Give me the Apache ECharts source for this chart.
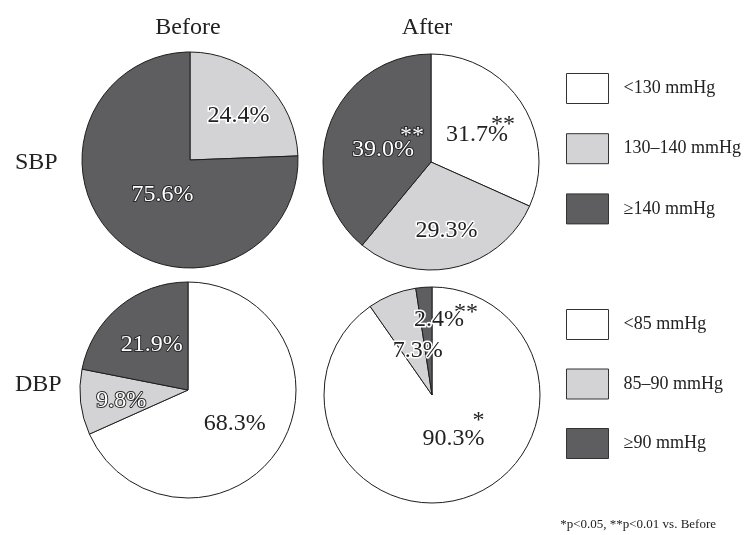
<!DOCTYPE html>
<html><head><meta charset="utf-8">
<script src="https://cdn.jsdelivr.net/npm/echarts@6/dist/echarts.min.js"></script>
<style>html,body{margin:0;padding:0;background:#fff}#c{width:746px;height:535px}</style>
</head><body><div id="c"></div>
<script>
// ---- data ----
const sbpCategories = ['<130 mmHg', '130–140 mmHg', '≥140 mmHg'];
const dbpCategories = ['<85 mmHg', '85–90 mmHg', '≥90 mmHg'];
const sbpBefore = [0, 24.4, 75.6];
const sbpAfter = [31.7, 29.3, 39.0];
const dbpBefore = [68.3, 9.8, 21.9];
const dbpAfter = [90.3, 7.3, 2.4];
const sbpBeforeMarks = ['', '', ''];
const sbpAfterMarks = ['**', '', '**'];
const dbpBeforeMarks = ['', '', ''];
const dbpAfterMarks = ['*', '', '**'];
const columnTitles = ['Before', 'After'];
const rowTitles = ['SBP', 'DBP'];
const footnote = '*p<0.05, **p<0.01 vs. Before';

// ---- style ----
const FONT = 'Liberation Serif';
const sliceColors = ['#ffffff', '#d3d3d5', '#5e5e60'];
const DARK = '#1e1e1e';
const pies = [
  {name: 'SBP Before', cats: sbpCategories, vals: sbpBefore, marks: sbpBeforeMarks, center: [190, 160],
   offsets: [[0,0],[9,-3],[12,-6]], modes: ['light','light','dark'], pad: [0,0,0], ls: [0,0,0]},
  {name: 'SBP After', cats: sbpCategories, vals: sbpAfter, marks: sbpAfterMarks, center: [431, 162],
   offsets: [[1.6,-0.3],[2.5,13],[10.6,-1.3]], modes: ['light','light','dark'], pad: [7,0,10], ls: [8.8,0,16.8]},
  {name: 'DBP Before', cats: dbpCategories, vals: dbpBefore, marks: dbpBeforeMarks, center: [188, 390],
   offsets: [[-1,3],[-10,4],[0,-1]], modes: ['light','dark','dark'], pad: [0,0,0], ls: [0,0,0]},
  {name: 'DBP After', cats: dbpCategories, vals: dbpAfter, marks: dbpAfterMarks, center: [432, 395],
   offsets: [[4.3,-22.5],[7,9],[18.3,-19.2]], modes: ['light','light','light'], pad: [0,0,14], ls: [24,0,2]}
];

function modeStyle(mode) {
  return mode === 'dark'
    ? {color: '#ffffff', textBorderColor: '#2a2a2a', textBorderWidth: 2}
    : {color: '#222222', textBorderColor: '#ffffff', textBorderWidth: 3};
}

const series = pies.map(function (p) {
  return {
    type: 'pie', name: p.name, radius: [0, 108], center: p.center,
    startAngle: 90, clockwise: true, avoidLabelOverlap: false,
    animation: false, silent: true,
    itemStyle: {borderColor: DARK, borderWidth: 1},
    emphasis: {disabled: true},
    label: {show: true, position: 'inside', fontFamily: FONT, fontSize: 24},
    labelLine: {show: false},
    labelLayout: function (params) {
      const o = p.offsets[params.dataIndex];
      return {dx: o[0], dy: o[1]};
    },
    data: p.vals.map(function (v, i) {
      const ms = modeStyle(p.modes[i]);
      const txt = v.toFixed(1) + '%';
      const mark = p.marks[i];
      const label = {
        show: v > 0, position: 'inside', fontFamily: FONT, fontSize: 24,
        color: ms.color, textBorderColor: ms.textBorderColor, textBorderWidth: ms.textBorderWidth
      };
      if (mark) {
        label.formatter = '{s|' + mark + '}\n{v|' + txt + '}';
        label.rich = {
          s: Object.assign({fontFamily: FONT, fontSize: 24, lineHeight: p.ls[i], align: 'right'}, ms),
          v: Object.assign({fontFamily: FONT, fontSize: 24, lineHeight: 12, align: 'right', padding: [0, p.pad[i], 0, 0]}, ms)
        };
      } else {
        label.formatter = txt;
      }
      return {
        name: p.cats[i], value: v,
        itemStyle: {color: sliceColors[i], borderColor: DARK, borderWidth: 1},
        label: label
      };
    })
  };
});

function legendFor(cats, top, gap) {
  return {
    orient: 'vertical', left: 566, top: top, padding: 0,
    itemWidth: 42, itemHeight: 30, itemGap: gap, icon: 'rect',
    selectedMode: false, data: cats,
    itemStyle: {borderColor: '#333', borderWidth: 1},
    textStyle: {fontFamily: FONT, fontSize: 18, color: '#222', padding: [0, 0, 0, 10]}
  };
}

function txt(t, x, y, size, align) {
  return {
    type: 'text', x: x, y: y, silent: true,
    style: {text: t, font: size + 'px ' + FONT, fill: '#222',
      align: align, textAlign: align, verticalAlign: 'middle', textVerticalAlign: 'middle'}
  };
}

const chart = echarts.init(document.getElementById('c'), null, {renderer: 'canvas'});
chart.setOption({
  backgroundColor: '#ffffff',
  animation: false,
  textStyle: {fontFamily: FONT},
  tooltip: {show: false},
  legend: [legendFor(sbpCategories, 73, 29.2), legendFor(dbpCategories, 309, 28.5)],
  graphic: [
    txt(columnTitles[0], 188, 28, 24, 'center'),
    txt(columnTitles[1], 427, 28, 24, 'center'),
    txt(rowTitles[0], 15, 163, 24, 'left'),
    txt(rowTitles[1], 15, 385, 24, 'left'),
    txt(footnote, 716, 525, 13, 'right')
  ],
  series: series
});
</script>
</body></html>
